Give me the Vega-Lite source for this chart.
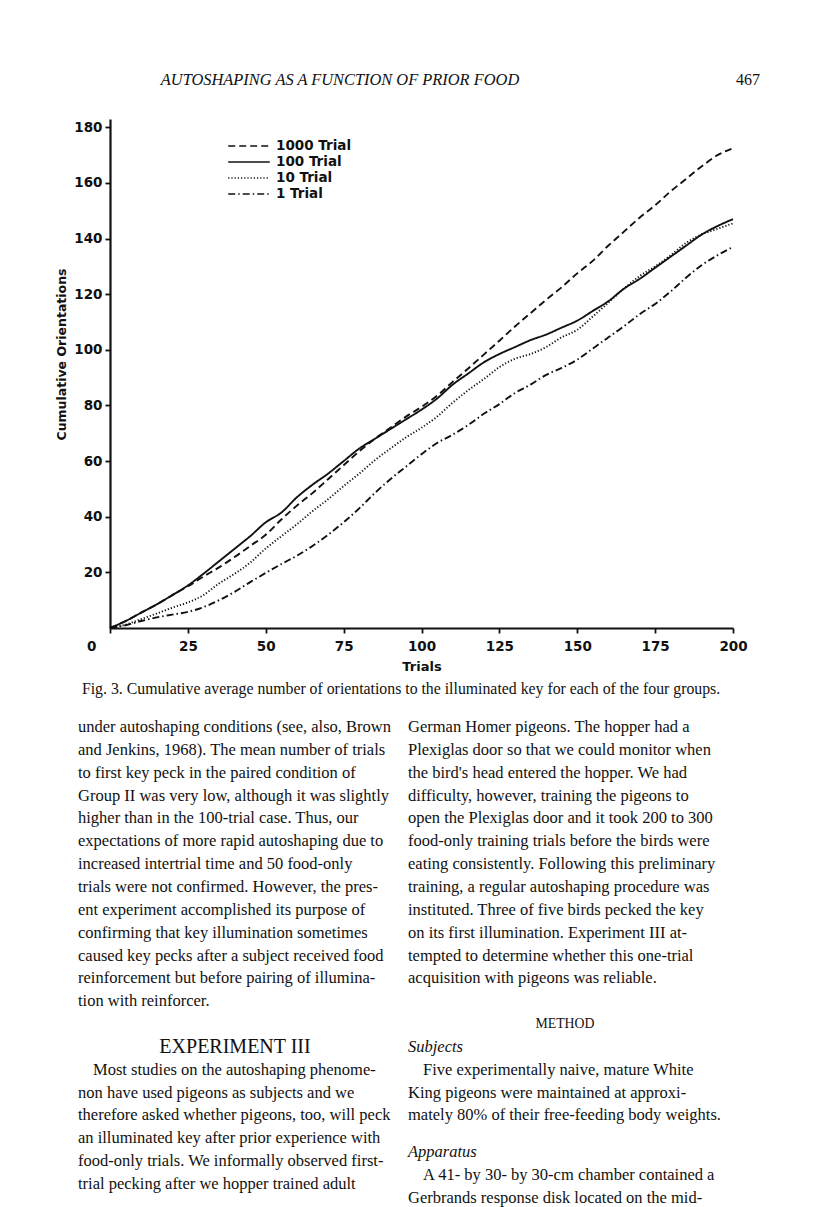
{
  "$schema": "https://vega.github.io/schema/vega-lite/v6.json",
  "width": 623,
  "height": 509,
  "autosize": {"type": "none"},
  "padding": {"left": 110, "top": 119, "right": 83, "bottom": 579},
  "background": "white",
  "config": {
    "view": {"stroke": null},
    "axis": {
      "domainColor": "#111",
      "domainWidth": 2.2,
      "tickColor": "#111",
      "tickWidth": 1.8,
      "tickSize": 5,
      "grid": false,
      "labelFont": "DejaVu Sans",
      "labelFontWeight": "bold",
      "labelFontSize": 13.5,
      "labelColor": "#111",
      "titleFont": "DejaVu Sans",
      "titleFontWeight": "bold",
      "titleColor": "#111"
    }
  },
  "datasets": {
    "curves": [
      {"group": "1000 Trial", "t": 0, "v": 0}, {"group": "1000 Trial", "t": 5, "v": 2.5}, {"group": "1000 Trial", "t": 10, "v": 5.5}, {"group": "1000 Trial", "t": 15, "v": 8.5}, {"group": "1000 Trial", "t": 20, "v": 11.8}, {"group": "1000 Trial", "t": 25, "v": 15}, {"group": "1000 Trial", "t": 30, "v": 18.5}, {"group": "1000 Trial", "t": 35, "v": 21.8}, {"group": "1000 Trial", "t": 40, "v": 25.5}, {"group": "1000 Trial", "t": 45, "v": 29.5}, {"group": "1000 Trial", "t": 50, "v": 33.5}, {"group": "1000 Trial", "t": 55, "v": 39}, {"group": "1000 Trial", "t": 60, "v": 44}, {"group": "1000 Trial", "t": 65, "v": 48.5}, {"group": "1000 Trial", "t": 70, "v": 53.5}, {"group": "1000 Trial", "t": 75, "v": 58.5}, {"group": "1000 Trial", "t": 80, "v": 63.5}, {"group": "1000 Trial", "t": 85, "v": 68}, {"group": "1000 Trial", "t": 90, "v": 72}, {"group": "1000 Trial", "t": 95, "v": 76}, {"group": "1000 Trial", "t": 100, "v": 79.5}, {"group": "1000 Trial", "t": 105, "v": 83.5}, {"group": "1000 Trial", "t": 110, "v": 88.5}, {"group": "1000 Trial", "t": 115, "v": 93.3}, {"group": "1000 Trial", "t": 120, "v": 98.3}, {"group": "1000 Trial", "t": 125, "v": 103.3}, {"group": "1000 Trial", "t": 130, "v": 108.4}, {"group": "1000 Trial", "t": 135, "v": 113.2}, {"group": "1000 Trial", "t": 140, "v": 118}, {"group": "1000 Trial", "t": 145, "v": 122.5}, {"group": "1000 Trial", "t": 150, "v": 127.5}, {"group": "1000 Trial", "t": 155, "v": 132}, {"group": "1000 Trial", "t": 160, "v": 137.5}, {"group": "1000 Trial", "t": 165, "v": 142.5}, {"group": "1000 Trial", "t": 170, "v": 147.5}, {"group": "1000 Trial", "t": 175, "v": 152}, {"group": "1000 Trial", "t": 180, "v": 157}, {"group": "1000 Trial", "t": 185, "v": 161.5}, {"group": "1000 Trial", "t": 190, "v": 166}, {"group": "1000 Trial", "t": 195, "v": 170}, {"group": "1000 Trial", "t": 200, "v": 172.5},
      {"group": "100 Trial", "t": 0, "v": 0}, {"group": "100 Trial", "t": 5, "v": 2.5}, {"group": "100 Trial", "t": 10, "v": 5.5}, {"group": "100 Trial", "t": 15, "v": 8.5}, {"group": "100 Trial", "t": 20, "v": 11.8}, {"group": "100 Trial", "t": 25, "v": 15.3}, {"group": "100 Trial", "t": 30, "v": 19.5}, {"group": "100 Trial", "t": 35, "v": 24}, {"group": "100 Trial", "t": 40, "v": 28.5}, {"group": "100 Trial", "t": 45, "v": 33}, {"group": "100 Trial", "t": 50, "v": 38}, {"group": "100 Trial", "t": 55, "v": 41.5}, {"group": "100 Trial", "t": 60, "v": 47}, {"group": "100 Trial", "t": 65, "v": 51.5}, {"group": "100 Trial", "t": 70, "v": 55.5}, {"group": "100 Trial", "t": 75, "v": 60}, {"group": "100 Trial", "t": 80, "v": 64.5}, {"group": "100 Trial", "t": 85, "v": 68}, {"group": "100 Trial", "t": 90, "v": 71.5}, {"group": "100 Trial", "t": 95, "v": 75}, {"group": "100 Trial", "t": 100, "v": 78.5}, {"group": "100 Trial", "t": 105, "v": 82.5}, {"group": "100 Trial", "t": 110, "v": 87.5}, {"group": "100 Trial", "t": 115, "v": 91.5}, {"group": "100 Trial", "t": 120, "v": 95.5}, {"group": "100 Trial", "t": 125, "v": 98.5}, {"group": "100 Trial", "t": 130, "v": 101}, {"group": "100 Trial", "t": 135, "v": 103.5}, {"group": "100 Trial", "t": 140, "v": 105.5}, {"group": "100 Trial", "t": 145, "v": 108}, {"group": "100 Trial", "t": 150, "v": 110.5}, {"group": "100 Trial", "t": 155, "v": 114}, {"group": "100 Trial", "t": 160, "v": 117.5}, {"group": "100 Trial", "t": 165, "v": 122}, {"group": "100 Trial", "t": 170, "v": 125.5}, {"group": "100 Trial", "t": 175, "v": 129.5}, {"group": "100 Trial", "t": 180, "v": 133.5}, {"group": "100 Trial", "t": 185, "v": 137.5}, {"group": "100 Trial", "t": 190, "v": 141.5}, {"group": "100 Trial", "t": 195, "v": 144.5}, {"group": "100 Trial", "t": 200, "v": 147},
      {"group": "10 Trial", "t": 0, "v": 0}, {"group": "10 Trial", "t": 5, "v": 1.2}, {"group": "10 Trial", "t": 10, "v": 3.2}, {"group": "10 Trial", "t": 15, "v": 5.2}, {"group": "10 Trial", "t": 20, "v": 7.3}, {"group": "10 Trial", "t": 25, "v": 9.2}, {"group": "10 Trial", "t": 30, "v": 11.8}, {"group": "10 Trial", "t": 35, "v": 16}, {"group": "10 Trial", "t": 40, "v": 19.5}, {"group": "10 Trial", "t": 45, "v": 23.5}, {"group": "10 Trial", "t": 50, "v": 28.6}, {"group": "10 Trial", "t": 55, "v": 33}, {"group": "10 Trial", "t": 60, "v": 37.3}, {"group": "10 Trial", "t": 65, "v": 42}, {"group": "10 Trial", "t": 70, "v": 46.3}, {"group": "10 Trial", "t": 75, "v": 51}, {"group": "10 Trial", "t": 80, "v": 55.5}, {"group": "10 Trial", "t": 85, "v": 60.3}, {"group": "10 Trial", "t": 90, "v": 64.5}, {"group": "10 Trial", "t": 95, "v": 68.5}, {"group": "10 Trial", "t": 100, "v": 72}, {"group": "10 Trial", "t": 105, "v": 76}, {"group": "10 Trial", "t": 110, "v": 81}, {"group": "10 Trial", "t": 115, "v": 85.5}, {"group": "10 Trial", "t": 120, "v": 89.5}, {"group": "10 Trial", "t": 125, "v": 93.8}, {"group": "10 Trial", "t": 130, "v": 96.8}, {"group": "10 Trial", "t": 135, "v": 98.5}, {"group": "10 Trial", "t": 140, "v": 101}, {"group": "10 Trial", "t": 145, "v": 104.5}, {"group": "10 Trial", "t": 150, "v": 107.2}, {"group": "10 Trial", "t": 155, "v": 112}, {"group": "10 Trial", "t": 160, "v": 117}, {"group": "10 Trial", "t": 165, "v": 122}, {"group": "10 Trial", "t": 170, "v": 126.5}, {"group": "10 Trial", "t": 175, "v": 130}, {"group": "10 Trial", "t": 180, "v": 134}, {"group": "10 Trial", "t": 185, "v": 138.5}, {"group": "10 Trial", "t": 190, "v": 141.5}, {"group": "10 Trial", "t": 195, "v": 143.5}, {"group": "10 Trial", "t": 200, "v": 145.5},
      {"group": "1 Trial", "t": 0, "v": 0}, {"group": "1 Trial", "t": 5, "v": 1}, {"group": "1 Trial", "t": 10, "v": 2.5}, {"group": "1 Trial", "t": 15, "v": 3.8}, {"group": "1 Trial", "t": 20, "v": 4.8}, {"group": "1 Trial", "t": 25, "v": 5.8}, {"group": "1 Trial", "t": 30, "v": 7.5}, {"group": "1 Trial", "t": 35, "v": 10}, {"group": "1 Trial", "t": 40, "v": 13}, {"group": "1 Trial", "t": 45, "v": 16.5}, {"group": "1 Trial", "t": 50, "v": 19.8}, {"group": "1 Trial", "t": 55, "v": 23}, {"group": "1 Trial", "t": 60, "v": 26}, {"group": "1 Trial", "t": 65, "v": 29.5}, {"group": "1 Trial", "t": 70, "v": 33.5}, {"group": "1 Trial", "t": 75, "v": 38}, {"group": "1 Trial", "t": 80, "v": 43}, {"group": "1 Trial", "t": 85, "v": 48.5}, {"group": "1 Trial", "t": 90, "v": 53.5}, {"group": "1 Trial", "t": 95, "v": 58}, {"group": "1 Trial", "t": 100, "v": 62.5}, {"group": "1 Trial", "t": 105, "v": 66.5}, {"group": "1 Trial", "t": 110, "v": 69.5}, {"group": "1 Trial", "t": 115, "v": 73}, {"group": "1 Trial", "t": 120, "v": 77}, {"group": "1 Trial", "t": 125, "v": 80.5}, {"group": "1 Trial", "t": 130, "v": 84.5}, {"group": "1 Trial", "t": 135, "v": 87.5}, {"group": "1 Trial", "t": 140, "v": 91}, {"group": "1 Trial", "t": 145, "v": 93.5}, {"group": "1 Trial", "t": 150, "v": 96.5}, {"group": "1 Trial", "t": 155, "v": 100.5}, {"group": "1 Trial", "t": 160, "v": 104.5}, {"group": "1 Trial", "t": 165, "v": 108.5}, {"group": "1 Trial", "t": 170, "v": 112.8}, {"group": "1 Trial", "t": 175, "v": 116.5}, {"group": "1 Trial", "t": 180, "v": 121}, {"group": "1 Trial", "t": 185, "v": 126}, {"group": "1 Trial", "t": 190, "v": 130.5}, {"group": "1 Trial", "t": 195, "v": 134}, {"group": "1 Trial", "t": 200, "v": 137}
    ],
    "page": [
      {"kind": "header", "col": 0.794, "line": -27.31, "text": "AUTOSHAPING AS A FUNCTION OF PRIOR FOOD"},
      {"kind": "pagenum", "col": 2.067, "line": -27.31, "text": "467"},
      {"kind": "caption", "col": 0.979, "line": -0.66, "text": "Fig. 3. Cumulative average number of orientations to the illuminated key for each of the four groups."},
      {"kind": "body", "col": 0, "line": 1, "text": "under autoshaping conditions (see, also, Brown"},
      {"kind": "body", "col": 0, "line": 2, "text": "and Jenkins, 1968). The mean number of trials"},
      {"kind": "body", "col": 0, "line": 3, "text": "to first key peck in the paired condition of"},
      {"kind": "body", "col": 0, "line": 4, "text": "Group II was very low, although it was slightly"},
      {"kind": "body", "col": 0, "line": 5, "text": "higher than in the 100-trial case. Thus, our"},
      {"kind": "body", "col": 0, "line": 6, "text": "expectations of more rapid autoshaping due to"},
      {"kind": "body", "col": 0, "line": 7, "text": "increased intertrial time and 50 food-only"},
      {"kind": "body", "col": 0, "line": 8, "text": "trials were not confirmed. However, the pres-"},
      {"kind": "body", "col": 0, "line": 9, "text": "ent experiment accomplished its purpose of"},
      {"kind": "body", "col": 0, "line": 10, "text": "confirming that key illumination sometimes"},
      {"kind": "body", "col": 0, "line": 11, "text": "caused key pecks after a subject received food"},
      {"kind": "body", "col": 0, "line": 12, "text": "reinforcement but before pairing of illumina-"},
      {"kind": "body", "col": 0, "line": 13, "text": "tion with reinforcer."},
      {"kind": "heading", "col": 0, "line": 15, "text": "EXPERIMENT III"},
      {"kind": "indent", "col": 0, "line": 16, "text": "Most studies on the autoshaping phenome-"},
      {"kind": "body", "col": 0, "line": 17, "text": "non have used pigeons as subjects and we"},
      {"kind": "body", "col": 0, "line": 18, "text": "therefore asked whether pigeons, too, will peck"},
      {"kind": "body", "col": 0, "line": 19, "text": "an illuminated key after prior experience with"},
      {"kind": "body", "col": 0, "line": 20, "text": "food-only trials. We informally observed first-"},
      {"kind": "body", "col": 0, "line": 21, "text": "trial pecking after we hopper trained adult"},
      {"kind": "body", "col": 1, "line": 1, "text": "German Homer pigeons. The hopper had a"},
      {"kind": "body", "col": 1, "line": 2, "text": "Plexiglas door so that we could monitor when"},
      {"kind": "body", "col": 1, "line": 3, "text": "the bird's head entered the hopper. We had"},
      {"kind": "body", "col": 1, "line": 4, "text": "difficulty, however, training the pigeons to"},
      {"kind": "body", "col": 1, "line": 5, "text": "open the Plexiglas door and it took 200 to 300"},
      {"kind": "body", "col": 1, "line": 6, "text": "food-only training trials before the birds were"},
      {"kind": "body", "col": 1, "line": 7, "text": "eating consistently. Following this preliminary"},
      {"kind": "body", "col": 1, "line": 8, "text": "training, a regular autoshaping procedure was"},
      {"kind": "body", "col": 1, "line": 9, "text": "instituted. Three of five birds pecked the key"},
      {"kind": "body", "col": 1, "line": 10, "text": "on its first illumination. Experiment III at-"},
      {"kind": "body", "col": 1, "line": 11, "text": "tempted to determine whether this one-trial"},
      {"kind": "body", "col": 1, "line": 12, "text": "acquisition with pigeons was reliable."},
      {"kind": "smallcaps", "col": 1, "line": 14, "text": "METHOD"},
      {"kind": "subhead", "col": 1, "line": 15, "text": "Subjects"},
      {"kind": "indent", "col": 1, "line": 16, "text": "Five experimentally naive, mature White"},
      {"kind": "body", "col": 1, "line": 17, "text": "King pigeons were maintained at approxi-"},
      {"kind": "body", "col": 1, "line": 18, "text": "mately 80% of their free-feeding body weights."},
      {"kind": "subhead", "col": 1, "line": 19.6, "text": "Apparatus"},
      {"kind": "indent", "col": 1, "line": 20.6, "text": "A 41- by 30- by 30-cm chamber contained a"},
      {"kind": "body", "col": 1, "line": 21.6, "text": "Gerbrands response disk located on the mid-"}
    ]
  },
  "layer": [
    {
      "data": {"name": "curves"},
      "mark": {"type": "line", "color": "#111", "strokeWidth": 1.9, "interpolate": "monotone"},
      "encoding": {
        "x": {
          "field": "t", "type": "quantitative",
          "scale": {"domain": [0, 200], "nice": false},
          "axis": {
            "title": "Trials", "titleFontSize": 13, "titlePadding": 8,
            "values": [0, 25, 50, 75, 100, 125, 150, 175, 200],
            "labelPadding": 6,
            "labelAlign": {"condition": {"test": "datum.value === 0", "value": "right"}, "value": "center"},
            "labelOffset": {"condition": {"test": "datum.value === 0", "value": -14}, "value": 0}
          }
        },
        "y": {
          "field": "v", "type": "quantitative",
          "scale": {"domain": [0, 183], "nice": false},
          "axis": {
            "title": "Cumulative Orientations", "titleFontSize": 12.5, "titlePadding": 5,
            "titleY": 235,
            "values": [20, 40, 60, 80, 100, 120, 140, 160, 180],
            "labelPadding": 3
          }
        },
        "strokeDash": {
          "field": "group", "type": "nominal",
          "scale": {
            "domain": ["1000 Trial", "100 Trial", "10 Trial", "1 Trial"],
            "range": [[7, 4], [1, 0], [1.2, 2], [7, 3, 1.5, 3]]
          },
          "legend": {
            "title": null,
            "orient": "none",
            "legendX": 130,
            "legendY": 18,
            "padding": 0,
            "symbolType": "M-2.6,0H2.6",
            "symbolSize": 256,
            "symbolStrokeColor": "#111",
            "symbolStrokeWidth": 1.6,
            "labelFont": "DejaVu Sans",
            "labelFontWeight": "bold",
            "labelFontSize": 13.5,
            "labelColor": "#111",
            "rowPadding": 0,
            "labelOffset": 18
          }
        }
      }
    },
    {
      "data": {"name": "page"},
      "encoding": {
        "x": {"field": "col", "type": "quantitative", "scale": {"domain": [0, 1], "range": [-32, 298], "nice": false, "zero": false}, "axis": null},
        "y": {"field": "line", "type": "quantitative", "scale": {"domain": [1, 21], "range": [608, 1065], "nice": false, "zero": false}, "axis": null},
        "text": {"field": "text"}
      },
      "layer": [
        {"transform": [{"filter": "datum.kind === 'header'"}], "mark": {"type": "text", "font": "Liberation Serif", "fontStyle": "italic", "fontSize": 16.4, "align": "center", "baseline": "middle", "color": "#111"}},
        {"transform": [{"filter": "datum.kind === 'pagenum'"}], "mark": {"type": "text", "font": "Liberation Serif", "fontSize": 16, "align": "right", "baseline": "middle", "color": "#111"}},
        {"transform": [{"filter": "datum.kind === 'caption'"}], "mark": {"type": "text", "font": "Liberation Serif", "fontSize": 15.8, "align": "center", "baseline": "middle", "color": "#111"}},
        {"transform": [{"filter": "datum.kind === 'body'"}], "mark": {"type": "text", "font": "Liberation Serif", "fontSize": 16.5, "align": "left", "baseline": "middle", "color": "#111"}},
        {"transform": [{"filter": "datum.kind === 'indent'"}], "mark": {"type": "text", "font": "Liberation Serif", "fontSize": 16.5, "align": "left", "baseline": "middle", "dx": 15, "color": "#111"}},
        {"transform": [{"filter": "datum.kind === 'heading'"}], "mark": {"type": "text", "font": "Liberation Serif", "fontSize": 20, "align": "center", "baseline": "middle", "dx": 157, "color": "#111"}},
        {"transform": [{"filter": "datum.kind === 'smallcaps'"}], "mark": {"type": "text", "font": "Liberation Serif", "fontSize": 13.8, "align": "center", "baseline": "middle", "dx": 157, "color": "#111"}},
        {"transform": [{"filter": "datum.kind === 'subhead'"}], "mark": {"type": "text", "font": "Liberation Serif", "fontStyle": "italic", "fontSize": 16.5, "align": "left", "baseline": "middle", "color": "#111"}}
      ]
    }
  ],
  "resolve": {"scale": {"x": "independent", "y": "independent"}}
}
